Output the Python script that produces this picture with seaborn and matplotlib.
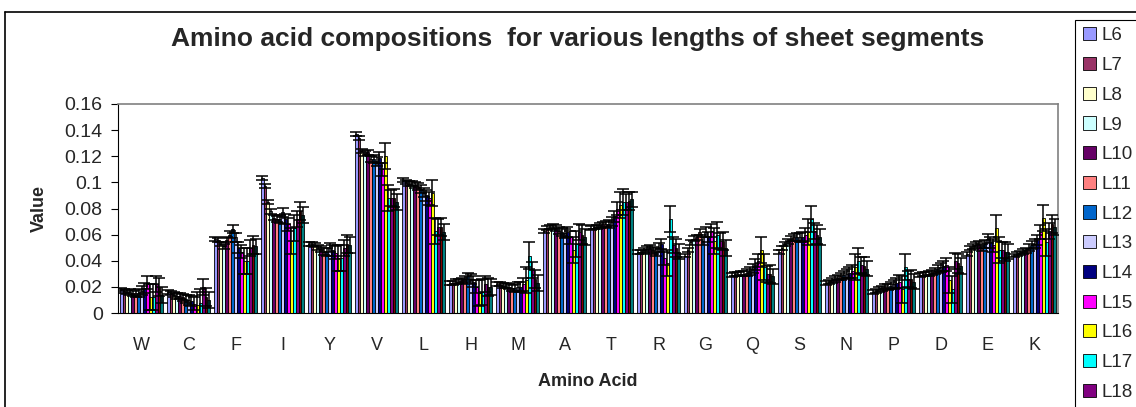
import matplotlib
matplotlib.use("Agg")
import matplotlib.pyplot as plt
import matplotlib.ticker as mticker
from matplotlib.lines import Line2D
from matplotlib.patches import Rectangle
import numpy as np
import pandas as pd
import seaborn as sns

# amino acids on the x axis
amino = ["W", "C", "F", "I", "Y", "V", "L", "H", "M", "A",
         "T", "R", "G", "Q", "S", "N", "P", "D", "E", "K"]
# segment lengths (hue)
lengths = ["L6", "L7", "L8", "L9", "L10", "L11", "L12", "L13",
           "L14", "L15", "L16", "L17", "L18", "L19", "L20"]
# legend entries visible in the picture (the rest run off the bottom)
legend_shown = 13

# composition per amino acid, one value per length L6..L20
W = [0.018, 0.017, 0.016, 0.016, 0.015, 0.015, 0.015, 0.017, 0.019, 0.023, 0.012, 0.012, 0.022, 0.020, 0.014]
C = [0.016, 0.015, 0.014, 0.013, 0.013, 0.012, 0.011, 0.010, 0.009, 0.007, 0.006, 0.008, 0.020, 0.012, 0.010]
F = [0.057, 0.056, 0.053, 0.051, 0.056, 0.060, 0.064, 0.058, 0.050, 0.047, 0.040, 0.040, 0.050, 0.052, 0.051]
I = [0.103, 0.097, 0.085, 0.078, 0.073, 0.072, 0.072, 0.077, 0.072, 0.068, 0.055, 0.065, 0.072, 0.078, 0.075]
Y = [0.053, 0.053, 0.052, 0.050, 0.049, 0.047, 0.047, 0.050, 0.048, 0.046, 0.042, 0.042, 0.050, 0.053, 0.052]
V = [0.137, 0.134, 0.124, 0.122, 0.123, 0.118, 0.118, 0.116, 0.119, 0.110, 0.120, 0.088, 0.088, 0.088, 0.085]
L = [0.102, 0.100, 0.099, 0.099, 0.098, 0.097, 0.095, 0.092, 0.090, 0.088, 0.092, 0.063, 0.066, 0.066, 0.062]
H = [0.023, 0.023, 0.024, 0.024, 0.025, 0.026, 0.028, 0.026, 0.024, 0.020, 0.015, 0.016, 0.022, 0.020, 0.020]
M = [0.022, 0.022, 0.021, 0.021, 0.020, 0.019, 0.019, 0.020, 0.020, 0.022, 0.025, 0.044, 0.033, 0.026, 0.023]
A = [0.063, 0.065, 0.066, 0.066, 0.065, 0.063, 0.062, 0.061, 0.062, 0.058, 0.048, 0.053, 0.062, 0.060, 0.058]
T = [0.065, 0.066, 0.066, 0.067, 0.068, 0.068, 0.068, 0.070, 0.074, 0.080, 0.083, 0.085, 0.085, 0.086, 0.087]
R = [0.047, 0.047, 0.048, 0.049, 0.050, 0.048, 0.047, 0.050, 0.053, 0.042, 0.038, 0.072, 0.052, 0.050, 0.047]
G = [0.044, 0.048, 0.054, 0.057, 0.058, 0.062, 0.055, 0.062, 0.058, 0.063, 0.055, 0.060, 0.055, 0.055, 0.050]
Q = [0.029, 0.030, 0.030, 0.030, 0.030, 0.031, 0.032, 0.034, 0.037, 0.040, 0.048, 0.035, 0.030, 0.030, 0.028]
S = [0.047, 0.050, 0.053, 0.055, 0.057, 0.058, 0.058, 0.058, 0.058, 0.060, 0.062, 0.072, 0.063, 0.060, 0.058]
N = [0.023, 0.024, 0.025, 0.026, 0.027, 0.028, 0.029, 0.030, 0.031, 0.032, 0.035, 0.040, 0.037, 0.036, 0.034]
P = [0.016, 0.017, 0.018, 0.019, 0.020, 0.020, 0.021, 0.022, 0.023, 0.024, 0.018, 0.035, 0.026, 0.026, 0.024]
D = [0.029, 0.030, 0.030, 0.030, 0.031, 0.032, 0.034, 0.035, 0.036, 0.037, 0.025, 0.018, 0.040, 0.038, 0.036]
E = [0.045, 0.050, 0.051, 0.052, 0.053, 0.050, 0.053, 0.057, 0.054, 0.052, 0.065, 0.048, 0.048, 0.047, 0.047]
K = [0.044, 0.045, 0.046, 0.047, 0.048, 0.050, 0.052, 0.053, 0.056, 0.062, 0.073, 0.054, 0.063, 0.068, 0.066]
rows = [W, C, F, I, Y, V, L, H, M, A, T, R, G, Q, S, N, P, D, E, K]

# error bar size per length
err = [0.0015, 0.0015, 0.0017, 0.002, 0.002, 0.0025, 0.003, 0.0035,
       0.004, 0.005, 0.010, 0.010, 0.006, 0.007, 0.006]

# Excel 2003 default fill colours
colors = ["#9999FF", "#993366", "#FFFFCC", "#CCFFFF", "#660066", "#FF8080",
          "#0066CC", "#CCCCFF", "#000080", "#FF00FF", "#FFFF00", "#00FFFF",
          "#800080", "#800000", "#008080"]

recs = []
for aa, vals in zip(amino, rows):
    for ln, v in zip(lengths, vals):
        recs.append({"Amino Acid": aa, "Length": ln, "Value": v})
df = pd.DataFrame(recs)

sns.set_style("white")
plt.rcParams["font.family"] = ["Liberation Sans", "DejaVu Sans"]

fig = plt.figure(figsize=(11.36, 4.07), dpi=100)
ax = fig.add_axes([118 / 1136, 1 - 313 / 407, 940 / 1136, 209 / 407])

sns.barplot(data=df, x="Amino Acid", y="Value", hue="Length", order=amino,
            hue_order=lengths, palette=colors, errorbar=None, width=0.93,
            edgecolor="black", linewidth=0.6, saturation=1, ax=ax)

# error bars on top of each bar
for cont, e in zip(ax.containers, err):
    xs = [b.get_x() + b.get_width() / 2 for b in cont]
    ys = [b.get_height() for b in cont]
    ax.errorbar(xs, ys, yerr=e, fmt="none", ecolor="black",
                elinewidth=1.1, capsize=4, capthick=1.1, zorder=5)

handles, labels = ax.get_legend_handles_labels()
ax.get_legend().remove()

ax.set_ylim(0, 0.16)
ax.set_xlim(-0.5, len(amino) - 0.5)
ax.yaxis.set_major_locator(mticker.MultipleLocator(0.02))
ax.yaxis.set_major_formatter(mticker.FuncFormatter(lambda v, p: f"{v:g}"))
ax.set_xticks(np.arange(len(amino)))
ax.set_xticks(np.arange(len(amino) + 1) - 0.5, minor=True)
ax.tick_params(axis="x", which="major", length=0, labelsize=13, pad=17)
ax.tick_params(axis="x", which="minor", length=5, width=0.8, color="black", direction="out")
ax.tick_params(axis="y", length=5, width=0.8, color="black", direction="out", labelsize=14, left=True, pad=6)

for side in ["left", "bottom"]:
    ax.spines[side].set_color("black")
    ax.spines[side].set_linewidth(0.8)
for side in ["top", "right"]:
    ax.spines[side].set_color("#808080")
    ax.spines[side].set_linewidth(1.2)

ax.set_xlabel("Amino Acid", fontsize=13, fontweight="bold", labelpad=14)
ax.set_ylabel("Value", fontsize=13, fontweight="bold", labelpad=12)
fig.text(578 / 1136, 1 - 39 / 407, "Amino acid compositions  for various lengths of sheet segments",
         ha="center", va="center", fontsize=19, fontweight="bold")

# outer chart frame (extends past the image)
fig.add_artist(Line2D([5 / 1136, 1.0], [1 - 12 / 407] * 2, color="black", lw=1.2))
fig.add_artist(Line2D([5 / 1136] * 2, [0, 1 - 12 / 407], color="black", lw=1.2))

# legend box runs off the right and bottom edges
fig.add_artist(Rectangle((1075 / 1136, -0.3), 0.2, 1.3 - 20 / 407,
                         transform=fig.transFigure, facecolor="white",
                         edgecolor="black", lw=0.8, zorder=3))
leg = fig.legend(handles[:legend_shown], labels[:legend_shown], loc="upper left",
                 bbox_to_anchor=(1076 / 1136, 1 - 20 / 407),
                 fontsize=13.5, frameon=False, borderaxespad=0,
                 handlelength=0.7, handleheight=0.7, handletextpad=0.25,
                 labelspacing=0.67, borderpad=0.39)
leg.set_zorder(4)

fig.savefig("out.png", dpi=100)
